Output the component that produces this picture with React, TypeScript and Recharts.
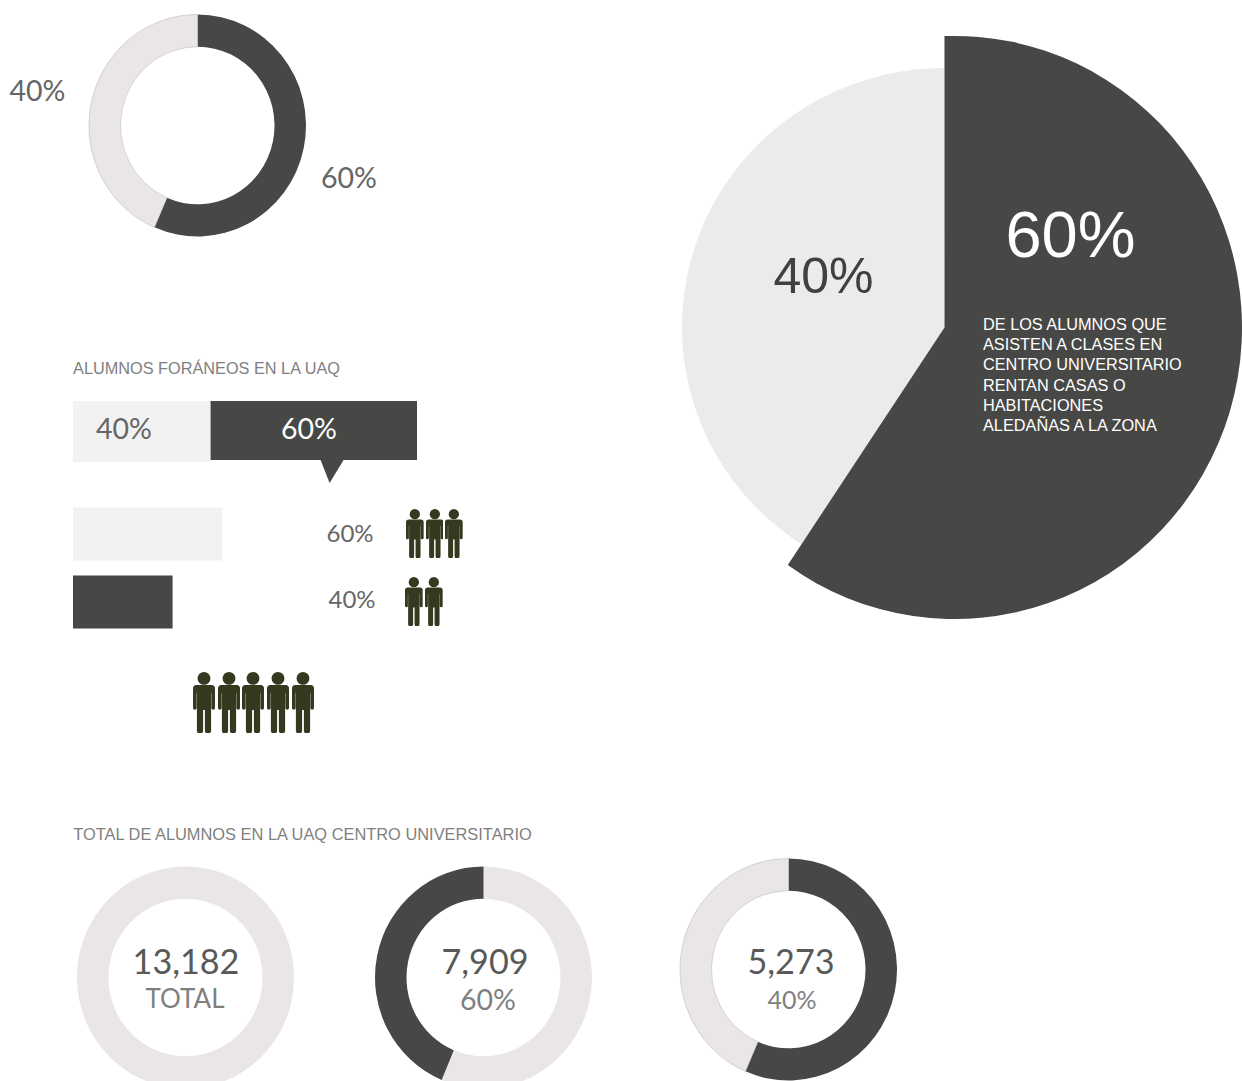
import { BarChart, Bar, Cell, Pie, PieChart, XAxis, YAxis } from 'recharts';

const DARK = '#474745';
const RING = '#e9e6e5';
const PALE = '#f2f2f2';
const CALIBRI = 'Lato, sans-serif';
const ARIAL = '"Liberation Sans", Arial, sans-serif';

// shares as drawn in the picture (the printed labels say 60 / 40)
const topDonut = [56.5, 43.5];
const mainPale = [57, 43];
const mainDark = [60.4, 39.6];
const totalRing = [100];
const donutLeft = [56.3, 43.7];
const donutRight = [56.5, 43.5];

const splitBar = [{ name: 'foraneos', pale: 40, dark: 60 }];
const singleBars = [
  { name: 'a', value: 60 },
  { name: 'b', value: 40 },
];

const peopleRows = [3, 2, 5];

const mainNote = [
  'DE LOS ALUMNOS QUE',
  'ASISTEN A CLASES EN',
  'CENTRO UNIVERSITARIO',
  'RENTAN CASAS O',
  'HABITACIONES',
  'ALEDAÑAS A LA ZONA',
];

interface RingProps {
  cx: number;
  cy: number;
  rx: number;
  ry: number;
  inner?: number;
  data: number[];
  colors: string[];
  stroke?: string;
  start?: number;
  shape?: any;
}

// recharts only draws circles, the originals are slightly stretched so scale the wrapper
function Ring({ cx, cy, rx, ry, inner = 0, data, colors, stroke, start = 90, shape }: RingProps) {
  const size = rx * 2 + 2;
  return (
    <div
      style={{
        position: 'absolute',
        left: cx - size / 2,
        top: cy - size / 2,
        width: size,
        height: size,
        transform: `scaleY(${ry / rx})`,
      }}
    >
      <PieChart width={size} height={size} margin={{ top: 0, right: 0, bottom: 0, left: 0 }}>
        <Pie
          data={data.map((value, i) => ({ name: `s${i}`, value }))}
          dataKey="value"
          cx="50%"
          cy="50%"
          innerRadius={inner}
          outerRadius={rx}
          startAngle={start}
          endAngle={start - 360}
          stroke="none"
          shape={shape}
          isAnimationActive={false}
        >
          {data.map((_, i) => (
            <Cell key={i} fill={colors[i]} stroke={colors[i] === RING ? stroke ?? 'none' : 'none'} strokeWidth={0.6} />
          ))}
        </Pie>
      </PieChart>
    </div>
  );
}

// the big dark slice has its tip left of the centre of its arc
function OffsetSlice(props: any) {
  const { cx, cy, outerRadius, startAngle, endAngle, fill } = props;
  if (fill === 'none') return null;
  const rad = Math.PI / 180;
  const sx = cx + outerRadius * Math.cos(startAngle * rad);
  const sy = cy - outerRadius * Math.sin(startAngle * rad);
  const ex = cx + outerRadius * Math.cos(endAngle * rad);
  const ey = cy - outerRadius * Math.sin(endAngle * rad);
  const large = Math.abs(startAngle - endAngle) > 180 ? 1 : 0;
  return (
    <path
      fill={fill}
      d={`M${cx - 10} ${cy} L${sx} ${sy} A${outerRadius} ${outerRadius} 0 ${large} 1 ${ex} ${ey} Z`}
    />
  );
}

interface LabelProps {
  x: number;
  y: number;
  size: number;
  color: string;
  font?: string;
  children: string;
}

function Label({ x, y, size, color, font = CALIBRI, children }: LabelProps) {
  return (
    <span
      style={{
        position: 'absolute',
        left: x,
        top: y,
        fontFamily: font,
        fontSize: size,
        lineHeight: 1,
        color,
        whiteSpace: 'nowrap',
        transform: 'translate(-50%, -50%)',
      }}
    >
      {children}
    </span>
  );
}

function Person({ height }: { height: number }) {
  return (
    <svg width={(height * 22) / 61} height={height} viewBox="0 0 22 61" style={{ display: 'block', flex: 'none' }}>
      <circle cx="11" cy="6.4" r="6.4" fill="#36381f" />
      <path
        fill="#36381f"
        d="M3.5 13 H18.5 Q22 13 22 16.5 V36 A1.8 1.8 0 0 1 18.4 36 V21 H18.1 V58.5 A3.1 3.1 0 0 1 11.9 58.5 V38 H10.1 V58.5 A3.1 3.1 0 0 1 3.9 58.5 V21 H3.6 V36 A1.8 1.8 0 0 1 0 36 V16.5 Q0 13 3.5 13 Z"
      />
    </svg>
  );
}

function People({ x, y, count, height, gap }: { x: number; y: number; count: number; height: number; gap: number }) {
  return (
    <div style={{ position: 'absolute', left: x, top: y, display: 'flex', gap }}>
      {Array.from({ length: count }, (_, i) => (
        <Person key={i} height={height} />
      ))}
    </div>
  );
}

// dark bar with the little speech-bubble pointer below it
function CalloutBar(props: any) {
  const { x, y, width, height, fill } = props;
  const bottom = y + height - 2;
  return (
    <path
      fill={fill}
      d={`M${x} ${y} H${x + width} V${bottom} H${x + 133} L${x + 119} ${bottom + 23} L${x + 110} ${bottom} H${x} Z`}
    />
  );
}

export default function App() {
  return (
    <div
      style={{
        position: 'absolute',
        left: 0,
        top: 0,
        width: 1242,
        height: 1081,
        overflow: 'hidden',
        background: '#fff',
      }}
    >
      {/* donut arriba */}
      <Ring cx={197.5} cy={125} rx={108.5} ry={111} inner={77} data={topDonut} colors={[DARK, RING]} stroke="#bdbdbd" />
      <Label x={37.5} y={90} size={28.5} color="#666">40%</Label>
      <Label x={349} y={177} size={28.5} color="#666">60%</Label>

      {/* pastel grande */}
      <Ring cx={944} cy={327} rx={262} ry={259} data={mainPale} colors={['none', '#ebebeb']} />
      <Ring cx={954} cy={327.2} rx={287.5} ry={291.6} start={92} data={mainDark} colors={[DARK, 'none']} shape={OffsetSlice} />
      <Label x={1070.5} y={234} size={65} color="#fff" font={ARIAL}>60%</Label>
      <Label x={823.5} y={276} size={50} color="#404040" font={ARIAL}>40%</Label>
      <div
        style={{
          position: 'absolute',
          left: 983,
          top: 314,
          fontFamily: ARIAL,
          fontSize: 16.3,
          lineHeight: '20.2px',
          color: '#fff',
          whiteSpace: 'nowrap',
        }}
      >
        {mainNote.map((line) => (
          <div key={line}>{line}</div>
        ))}
      </div>

      {/* barras */}
      <Label x={206.5} y={368} size={16.3} color="#7f7f7f" font={ARIAL}>ALUMNOS FORÁNEOS EN LA UAQ</Label>
      <div style={{ position: 'absolute', left: 73, top: 377 }}>
        <BarChart
          width={344}
          height={109}
          layout="vertical"
          data={splitBar}
          barCategoryGap={0}
          barSize={61}
          margin={{ top: 0, right: 0, bottom: 0, left: 0 }}
        >
          <XAxis type="number" domain={[0, 100]} hide />
          <YAxis type="category" dataKey="name" hide />
          <Bar dataKey="pale" stackId="s" fill={PALE} isAnimationActive={false} />
          <Bar dataKey="dark" stackId="s" fill={DARK} shape={CalloutBar} isAnimationActive={false} />
        </BarChart>
      </div>
      <Label x={124} y={428} size={28.5} color="#666">40%</Label>
      <Label x={309} y={428} size={28.5} color="#fff">60%</Label>

      <div style={{ position: 'absolute', left: 73, top: 499 }}>
        <BarChart
          width={249}
          height={137}
          layout="vertical"
          data={singleBars}
          barSize={53}
          margin={{ top: 0.5, right: 0, bottom: 0.5, left: 0 }}
        >
          <XAxis type="number" domain={[0, 100]} hide />
          <YAxis type="category" dataKey="name" hide />
          <Bar dataKey="value" isAnimationActive={false}>
            <Cell fill={PALE} />
            <Cell fill={DARK} />
          </Bar>
        </BarChart>
      </div>
      <Label x={350} y={533} size={24} color="#666">60%</Label>
      <Label x={352} y={599} size={24} color="#666">40%</Label>

      <People x={406} y={509} count={peopleRows[0]} height={49} gap={2} />
      <People x={405} y={577} count={peopleRows[1]} height={49} gap={2.5} />
      <People x={193} y={672} count={peopleRows[2]} height={61} gap={2.7} />

      {/* totales */}
      <Label x={302.5} y={834} size={16.4} color="#7f7f7f" font={ARIAL}>TOTAL DE ALUMNOS EN LA UAQ CENTRO UNIVERSITARIO</Label>

      <Ring cx={185} cy={977} rx={108.5} ry={111} inner={77} data={totalRing} colors={[RING]} />
      <Label x={186} y={961} size={34.2} color="#595959">13,182</Label>
      <Label x={185} y={998} size={26} color="#7f7f7f">TOTAL</Label>

      <Ring cx={483.5} cy={977} rx={108.5} ry={111} inner={77} data={donutLeft} colors={[RING, DARK]} />
      <Label x={485} y={961} size={34.2} color="#595959">7,909</Label>
      <Label x={488} y={999} size={28.5} color="#7f7f7f">60%</Label>

      <Ring cx={788.5} cy={969} rx={108.5} ry={111} inner={77} data={donutRight} colors={[DARK, RING]} stroke="#bdbdbd" />
      <Label x={791} y={961} size={34.2} color="#595959">5,273</Label>
      <Label x={792} y={999} size={25} color="#7f7f7f">40%</Label>
    </div>
  );
}
